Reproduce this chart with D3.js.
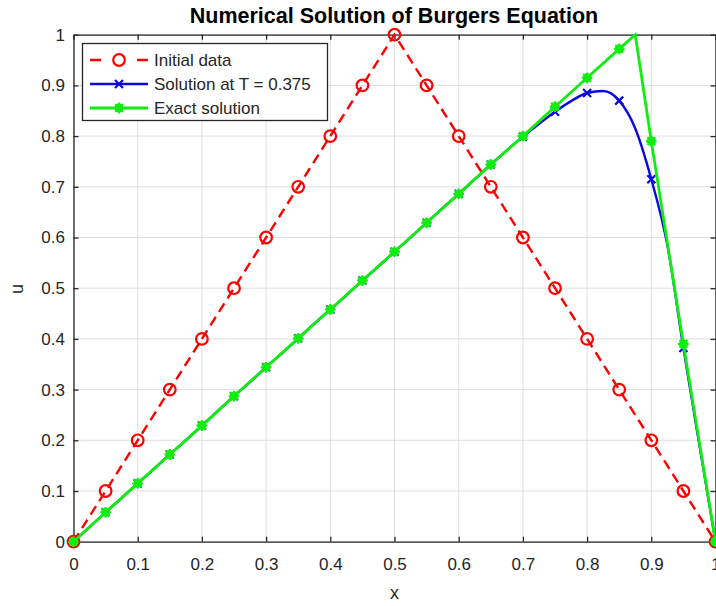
<!DOCTYPE html>
<html>
<head>
<meta charset="utf-8">
<script src="https://cdn.jsdelivr.net/npm/d3@7"></script>
<style>
  html, body { margin: 0; padding: 0; background: #fff; }
  svg { display: block; font-family: "Liberation Sans", Arial, Helvetica, sans-serif; }
</style>
</head>
<body>
<svg id="chart" width="716" height="606"></svg>
<script>
// Burgers equation: initial triangle, numerical and exact solution at T = 0.375
const xTicks = [0, 0.1, 0.2, 0.3, 0.4, 0.5, 0.6, 0.7, 0.8, 0.9, 1];
const yTicks = [0, 0.1, 0.2, 0.3, 0.4, 0.5, 0.6, 0.7, 0.8, 0.9, 1];
const xTickLabels = ["0", "0.1", "0.2", "0.3", "0.4", "0.5", "0.6", "0.7", "0.8", "0.9", "1"];
const yTickLabels = ["0", "0.1", "0.2", "0.3", "0.4", "0.5", "0.6", "0.7", "0.8", "0.9", "1"];

const initialX = [0, 0.05, 0.1, 0.15, 0.2, 0.25, 0.3, 0.35, 0.4, 0.45, 0.5,
                  0.55, 0.6, 0.65, 0.7, 0.75, 0.8, 0.85, 0.9, 0.95, 1];
const initialU = [0, 0.1, 0.2, 0.3, 0.4, 0.5, 0.6, 0.7, 0.8, 0.9, 1,
                  0.9, 0.8, 0.7, 0.6, 0.5, 0.4, 0.3, 0.2, 0.1, 0];

const numericX = [0, 0.025, 0.05, 0.075, 0.1, 0.125, 0.15, 0.175, 0.2, 0.225, 0.25,
                  0.275, 0.3, 0.325, 0.35, 0.375, 0.4, 0.425, 0.45, 0.475, 0.5,
                  0.525, 0.55, 0.575, 0.6, 0.625, 0.65, 0.675, 0.7, 0.725, 0.75,
                  0.775, 0.8, 0.825, 0.85, 0.875, 0.9, 0.925, 0.95, 0.975, 1];
const numericU = [0, 0.029, 0.058, 0.086, 0.115, 0.143, 0.172, 0.2, 0.229, 0.258, 0.287,
                  0.315, 0.344, 0.372, 0.401, 0.43, 0.458, 0.486, 0.515, 0.543, 0.572,
                  0.6, 0.629, 0.658, 0.686, 0.715, 0.744, 0.772, 0.799, 0.824, 0.848,
                  0.869, 0.885, 0.889, 0.87, 0.815, 0.715, 0.585, 0.382, 0.19, 0];

const exactX = [0, 0.05, 0.1, 0.15, 0.2, 0.25, 0.3, 0.35, 0.4, 0.45, 0.5,
                0.55, 0.6, 0.65, 0.7, 0.75, 0.8, 0.85, 0.875, 0.9, 0.95, 1];
const exactU = [0, 0.058, 0.115, 0.172, 0.229, 0.287, 0.344, 0.401, 0.458, 0.515, 0.572,
                0.629, 0.686, 0.744, 0.8, 0.858, 0.915, 0.972, 1, 0.79, 0.39, 0];

const seriesNames = ["Initial data", "Solution at T = 0.375", "Exact solution"];
const titleText = "Numerical Solution of Burgers Equation";

const COL_RED = "#ff0000", COL_BLUE = "#0a0ae0", COL_GREEN = "#10ee10";
const AX = "#262626", GRID = "#dfdfdf";

const svg = d3.select("#chart");
const x = d3.scaleLinear().domain([0, 1]).range([73.5, 715.5]);
const y = d3.scaleLinear().domain([0, 1]).range([541.7, 34.7]);
const [x0, x1] = x.range(), [y0, y1] = y.range();

// grid
const grid = svg.append("g");
grid.selectAll(".gx").data(xTicks).join("line")
  .attr("x1", d => x(d)).attr("x2", d => x(d)).attr("y1", y0).attr("y2", y1)
  .attr("stroke", GRID).attr("stroke-width", 1);
grid.selectAll(".gy").data(yTicks).join("line")
  .attr("y1", d => y(d)).attr("y2", d => y(d)).attr("x1", x0).attr("x2", x1)
  .attr("stroke", GRID).attr("stroke-width", 1);

// axes (box with inward ticks)
function styleAxis(g) {
  g.select(".domain").attr("stroke", AX).attr("stroke-width", 1.3);
  g.selectAll(".tick line").attr("stroke", AX).attr("stroke-width", 1.3);
  g.selectAll("text").attr("fill", AX).attr("font-size", 17);
}
svg.append("g").attr("transform", `translate(0,${y0})`)
  .call(d3.axisBottom(x).tickValues(xTicks).tickFormat((d, i) => xTickLabels[i])
    .tickSizeInner(-5).tickSizeOuter(0).tickPadding(16))
  .call(styleAxis);
svg.append("g").attr("transform", `translate(${x0},0)`)
  .call(d3.axisLeft(y).tickValues(yTicks).tickFormat((d, i) => yTickLabels[i])
    .tickSizeInner(-5).tickSizeOuter(0).tickPadding(8.5))
  .call(styleAxis);
svg.append("g").attr("transform", `translate(0,${y1})`)
  .call(d3.axisTop(x).tickValues(xTicks).tickFormat("")
    .tickSizeInner(-5).tickSizeOuter(0))
  .call(styleAxis);
svg.append("g").attr("transform", `translate(${x1},0)`)
  .call(d3.axisRight(y).tickValues(yTicks).tickFormat("")
    .tickSizeInner(-5).tickSizeOuter(0))
  .call(styleAxis);

// labels
svg.append("text").attr("x", (x0 + x1) / 2 - 0.5).attr("y", 23)
  .attr("text-anchor", "middle").attr("font-weight", "bold").attr("font-size", 21.5)
  .attr("fill", "#000").text(titleText);
svg.append("text").attr("x", (x0 + x1) / 2).attr("y", 599)
  .attr("text-anchor", "middle").attr("font-size", 18).attr("fill", AX).text("x");
svg.append("text").attr("transform", "translate(23,289) rotate(-90)")
  .attr("text-anchor", "middle").attr("font-size", 18).attr("fill", AX).text("u");

const line = d3.line().x(d => x(d[0])).y(d => y(d[1]));
const onGrid = v => Math.abs(v * 20 - Math.round(v * 20)) < 1e-9;

// markers
function circleMarker(g, cx, cy) {
  g.append("circle").attr("cx", cx).attr("cy", cy).attr("r", 5.8)
    .attr("fill", "none").attr("stroke", COL_RED).attr("stroke-width", 2.2);
}
function crossMarker(g, cx, cy) {
  const s = 4;
  g.append("path").attr("d", `M${cx - s},${cy - s}L${cx + s},${cy + s}M${cx - s},${cy + s}L${cx + s},${cy - s}`)
    .attr("stroke", COL_BLUE).attr("stroke-width", 2.2).attr("fill", "none");
}
function starMarker(g, cx, cy) {
  g.append("circle").attr("cx", cx).attr("cy", cy).attr("r", 4.5).attr("fill", COL_GREEN);
  const s = 5.4, d = s * 0.72;
  g.append("path")
    .attr("d", `M${cx - s},${cy}L${cx + s},${cy}M${cx},${cy - s}L${cx},${cy + s}M${cx - d},${cy - d}L${cx + d},${cy + d}M${cx - d},${cy + d}L${cx + d},${cy - d}`)
    .attr("stroke", COL_GREEN).attr("stroke-width", 2);
}

// initial data
const initPts = initialX.map((v, i) => [v, initialU[i]]);
const gRed = svg.append("g");
gRed.append("path").datum(initPts).attr("d", line)
  .attr("fill", "none").attr("stroke", COL_RED).attr("stroke-width", 2.4)
  .attr("stroke-dasharray", "10,6");
initPts.forEach(p => circleMarker(gRed, x(p[0]), y(p[1])));

// numerical solution
const numPts = numericX.map((v, i) => [v, numericU[i]]);
const gBlue = svg.append("g");
gBlue.append("path").datum(numPts).attr("d", line.curve(d3.curveMonotoneX))
  .attr("fill", "none").attr("stroke", COL_BLUE).attr("stroke-width", 2.4);
line.curve(d3.curveLinear);
numPts.filter(p => onGrid(p[0])).forEach(p => crossMarker(gBlue, x(p[0]), y(p[1])));

// exact solution
const exPts = exactX.map((v, i) => [v, exactU[i]]);
const gGreen = svg.append("g");
gGreen.append("path").datum(exPts).attr("d", line)
  .attr("fill", "none").attr("stroke", COL_GREEN).attr("stroke-width", 2.8);
exPts.filter(p => onGrid(p[0])).forEach(p => starMarker(gGreen, x(p[0]), y(p[1])));

// legend
const lg = svg.append("g");
lg.append("rect").attr("x", 82.5).attr("y", 43.5).attr("width", 245).attr("height", 77)
  .attr("fill", "#fff").attr("stroke", AX).attr("stroke-width", 1.3);
const rows = [60, 84, 108];
const sx0 = 90, sx1 = 148, mx = 119;
lg.append("line").attr("x1", sx0).attr("x2", sx1).attr("y1", rows[0]).attr("y2", rows[0])
  .attr("stroke", COL_RED).attr("stroke-width", 2.4).attr("stroke-dasharray", "11,36");
circleMarker(lg, mx, rows[0]);
lg.append("line").attr("x1", sx0).attr("x2", sx1).attr("y1", rows[1]).attr("y2", rows[1])
  .attr("stroke", COL_BLUE).attr("stroke-width", 2.4);
crossMarker(lg, mx, rows[1]);
lg.append("line").attr("x1", sx0).attr("x2", sx1).attr("y1", rows[2]).attr("y2", rows[2])
  .attr("stroke", COL_GREEN).attr("stroke-width", 2.8);
starMarker(lg, mx, rows[2]);
seriesNames.forEach((name, i) => {
  lg.append("text").attr("x", 154).attr("y", rows[i]).attr("dy", "0.35em")
    .attr("font-size", 17).attr("fill", AX).text(name);
});
</script>
</body>
</html>
